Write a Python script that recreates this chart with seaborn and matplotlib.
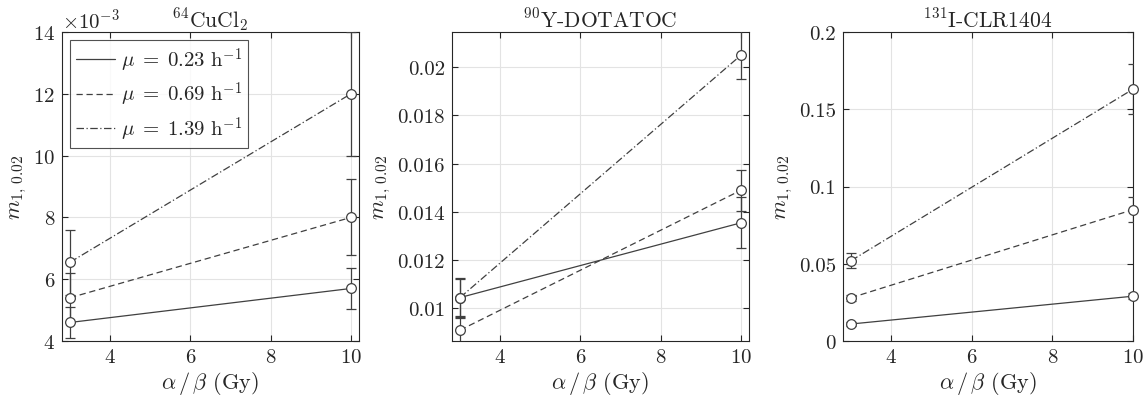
import numpy as np
import pandas as pd
import matplotlib
matplotlib.use('Agg')
import matplotlib.pyplot as plt
import matplotlib.ticker as mticker
import seaborn as sns

# alpha/beta values (Gy)
alpha_beta = [3, 10]
mu_labels = [r'$\mu\;=\;0.23\ \mathrm{h}^{-1}$',
             r'$\mu\;=\;0.69\ \mathrm{h}^{-1}$',
             r'$\mu\;=\;1.39\ \mathrm{h}^{-1}$']
titles = [r'$^{64}$CuCl$_2$', r'$^{90}$Y-DOTATOC', r'$^{131}$I-CLR1404']

# 64CuCl2
cu_mean = [[0.0046, 0.0057], [0.0054, 0.0080], [0.00655, 0.0120]]
cu_err = [[0.0005, 0.00067], [0.0008, 0.00123], [0.00105, 0.0020]]
# 90Y-DOTATOC
y_mean = [[0.01045, 0.01355], [0.0091, 0.0149], [0.01045, 0.0205]]
y_err = [[0.00075, 0.00105], [0.0005, 0.00085], [0.0008, 0.0010]]
# 131I-CLR1404
i_mean = [[0.011, 0.029], [0.028, 0.085], [0.052, 0.163]]
i_err = [[0.0015, 0.002], [0.002, 0.008], [0.005, 0.016]]

means = [cu_mean, y_mean, i_mean]
errs = [cu_err, y_err, i_err]
ylims = [(0.004, 0.014), (0.00865, 0.02146), (0.0, 0.2)]
yticks = [np.arange(0.004, 0.0141, 0.002), np.arange(0.01, 0.0201, 0.002),
          np.arange(0.0, 0.201, 0.05)]
xlims = [(2.8, 10.2), (2.8, 10.2), (2.8, 10.0)]

sns.set_theme(style='ticks')
plt.rcParams['font.family'] = ['cmr10', 'DejaVu Serif']
plt.rcParams['mathtext.fontset'] = 'cm'
plt.rcParams['axes.formatter.use_mathtext'] = True
plt.rcParams['axes.unicode_minus'] = False

col = '#404040'
dashes = ['', (5, 3), (6, 2, 1, 2)]

fig = plt.figure(figsize=(11.48, 4.02), dpi=100)
lefts = [62 / 1148, 452 / 1148, 843 / 1148]
widths = [297 / 1148, 297 / 1148, 290 / 1148]

for p in range(3):
    ax = fig.add_axes([lefts[p], 60 / 402, widths[p], 309 / 402])
    rows = []
    for k in range(3):
        for j, x in enumerate(alpha_beta):
            rows.append({'ab': x, 'm': means[p][k][j], 'mu': mu_labels[k]})
    df = pd.DataFrame(rows)
    sns.lineplot(data=df, x='ab', y='m', style='mu', dashes=dashes, color=col,
                 linewidth=0.9, ax=ax, legend=(p == 0))
    for k in range(3):
        eb = ax.errorbar(alpha_beta, means[p][k], yerr=errs[p][k], fmt='o', color=col,
                         mfc='white', mec=col, ms=7, mew=0.9, elinewidth=0.9,
                         capsize=3.5, capthick=0.9, zorder=3)
        eb[0].set_clip_on(False)
    ax.set_xlim(*xlims[p])
    ax.set_ylim(*ylims[p])
    ax.set_xticks([4, 6, 8, 10])
    ax.set_yticks(yticks[p])
    if p == 0:
        fmt = mticker.ScalarFormatter(useMathText=True)
        fmt.set_powerlimits((-3, -3))
        ax.yaxis.set_major_formatter(fmt)
        ax.yaxis.get_offset_text().set_fontsize(15)
    else:
        ax.yaxis.set_major_formatter(mticker.FuncFormatter(lambda v, pos: '%g' % round(v, 4)))
    ax.grid(True, color='#e3e3e3', linewidth=0.8)
    ax.tick_params(direction='in', top=True, right=True, labelsize=15,
                   length=4, width=0.8, color='#262626', pad=5)
    for s in ax.spines.values():
        s.set_color('#262626')
        s.set_linewidth(0.8)
    ax.set_xlabel(r'$\alpha\,/\,\beta$ (Gy)', fontsize=16, labelpad=2)
    ax.set_ylabel(r'$m_{1,\,0.02}$', fontsize=16, labelpad=3)
    ax.set_title(titles[p], fontsize=15.5, pad=4)
    if p == 0:
        leg = ax.legend(loc='upper left', fontsize=15, frameon=True, fancybox=False,
                        edgecolor='#262626', borderaxespad=0.4, handlelength=1.9,
                        handletextpad=0.3, labelspacing=0.3, borderpad=0.25)
        leg.get_frame().set_linewidth(0.8)
        leg.set_title(None)

fig.savefig('out.png', dpi=100)
